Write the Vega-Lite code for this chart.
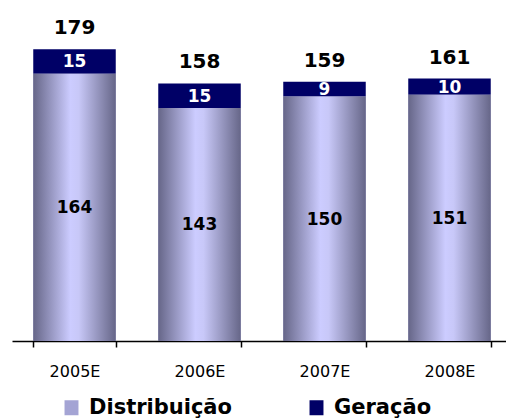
{
  "$schema": "https://vega.github.io/schema/vega-lite/v6.json",
  "autosize": "none",
  "width": 500,
  "height": 326,
  "padding": {"left": 12, "top": 15, "right": 0, "bottom": 78},
  "background": "white",
  "config": {"view": {"stroke": null}, "font": "DejaVu Sans"},
  "data": {"values": [
    {"year": "2005E", "serie": "Distribuição", "value": 164},
    {"year": "2005E", "serie": "Geração", "value": 15},
    {"year": "2006E", "serie": "Distribuição", "value": 143},
    {"year": "2006E", "serie": "Geração", "value": 15},
    {"year": "2007E", "serie": "Distribuição", "value": 150},
    {"year": "2007E", "serie": "Geração", "value": 9},
    {"year": "2008E", "serie": "Distribuição", "value": 151},
    {"year": "2008E", "serie": "Geração", "value": 10}
  ]},
  "encoding": {
    "x": {"field": "year", "type": "nominal", "title": null,
      "scale": {"paddingInner": 0.34, "paddingOuter": 0.17},
      "axis": {"labelAngle": 0, "labelFontSize": 16, "labelColor": "black", "labelPadding": 16,
        "tickBand": "extent", "tickSize": 6, "tickColor": "black", "domainColor": "black", "domainWidth": 1.5, "tickWidth": 1.5, "grid": false}}
  },
  "layer": [
    {
      "transform": [
        {"stack": "value", "groupby": ["year"], "sort": [{"field": "serie"}], "as": ["v0", "v1"]}
      ],
      "mark": {"type": "bar"},
      "encoding": {
        "y": {"field": "v1", "type": "quantitative", "scale": {"domain": [0, 200]}, "axis": null},
        "y2": {"field": "v0"},
        "color": {"field": "serie", "type": "nominal", "title": null,
          "scale": {"domain": ["Distribuição", "Geração"], "range": ["#a4a4d4", "#000066"]},
          "legend": {"orient": "none", "direction": "horizontal", "legendX": 49, "legendY": 382,
            "symbolType": "M-0.93,-1h1.86v2h-1.86Z", "symbolSize": 225, "symbolStrokeWidth": 0, "symbolOpacity": 1,
            "labelFontSize": 21, "labelFontWeight": "bold", "labelColor": "black", "labelOffset": 7,
            "columnPadding": 74}}
      }
    },
    {
      "transform": [{"filter": "datum.serie === 'Distribuição'"}],
      "mark": {"type": "bar", "fill": {"gradient": "linear", "x1": 0, "y1": 0, "x2": 1, "y2": 0, "stops": [{"offset": 0, "color": "#666688"}, {"offset": 0.45, "color": "#ccccff"}, {"offset": 0.55, "color": "#c8c8f8"}, {"offset": 1, "color": "#666688"}]}},
      "encoding": {
        "y": {"field": "value", "type": "quantitative", "stack": null}
      }
    },
    {
      "transform": [
        {"stack": "value", "groupby": ["year"], "sort": [{"field": "serie"}], "as": ["v0", "v1"]},
        {"calculate": "(datum.v0 + datum.v1) / 2", "as": "mid"}
      ],
      "mark": {"type": "text", "fontSize": 17, "fontWeight": "bold", "baseline": "middle", "dy": 1},
      "encoding": {
        "y": {"field": "mid", "type": "quantitative", "stack": null},
        "text": {"field": "value"},
        "color": {"field": "serie", "type": "nominal", "scale": {"domain": ["Distribuição", "Geração"], "range": ["black", "white"]}, "legend": null}
      }
    },
    {
      "mark": {"type": "text", "fontSize": 20, "fontWeight": "bold", "baseline": "alphabetic", "dy": -15, "color": "black"},
      "encoding": {
        "y": {"aggregate": "sum", "field": "value", "type": "quantitative"},
        "text": {"aggregate": "sum", "field": "value"}
      }
    }
  ],
  "resolve": {"scale": {"color": "independent"}}
}
